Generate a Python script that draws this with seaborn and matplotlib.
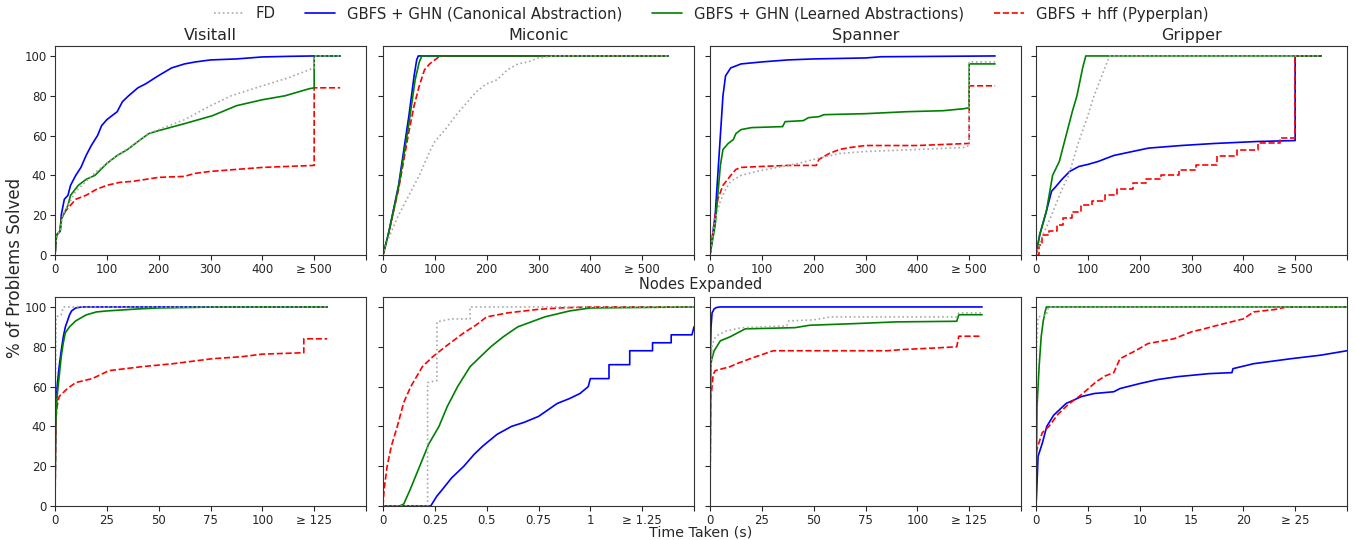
import pandas as pd
import matplotlib
matplotlib.use('Agg')
import matplotlib.pyplot as plt
import seaborn as sns

DOMAINS = ['Visitall', 'Miconic', 'Spanner', 'Gripper']
SERIES = ['FD', 'GBFS + GHN (Canonical Abstraction)',
          'GBFS + GHN (Learned Abstractions)', 'GBFS + hff (Pyperplan)']

# ---- nodes expanded (top row), (x, % solved) ----
VIS_N_FD = [(0, 0), (3, 10), (10, 12), (15, 20), (25, 25), (40, 32), (60, 37), (80, 42), (100, 46),
            (120, 50), (150, 55), (180, 61), (200, 63), (250, 68), (300, 75), (340, 80), (400, 85),
            (450, 89), (500, 94), (500, 100), (550, 100)]
VIS_N_CAN = [(0, 0), (3, 10), (10, 12), (12, 20), (18, 28), (25, 30), (30, 35), (40, 40), (50, 44),
             (60, 50), (70, 55), (82, 60), (90, 65), (100, 68), (120, 72), (130, 77), (142, 80),
             (160, 84), (175, 86), (199, 90), (225, 94), (250, 96), (271, 97), (300, 98),
             (350, 98.5), (400, 99.5), (450, 99.8), (500, 100), (550, 100)]
VIS_N_LRN = [(0, 0), (3, 10), (10, 12), (12, 18), (20, 22), (25, 25), (30, 30), (45, 35), (60, 38),
             (77, 40), (100, 46), (120, 50), (140, 53), (160, 57), (181, 61), (200, 62.5), (250, 66),
             (304, 70), (350, 75), (400, 78), (444, 80), (490, 83.5), (500, 84), (500, 100), (550, 100)]
VIS_N_HFF = [(0, 0), (3, 10), (10, 12), (12, 18), (20, 22), (30, 25), (40, 28), (60, 30), (80, 33),
             (100, 35), (125, 36.5), (150, 37), (175, 38), (200, 39), (250, 39.5), (270, 41),
             (300, 42), (350, 43), (400, 44), (450, 44.5), (500, 45), (500, 84), (550, 84)]

MIC_N_FD = [(0, 0), (10, 8), (30, 20), (50, 30), (70, 40), (90, 52), (100, 57), (120, 63), (140, 70),
            (160, 76), (180, 82), (200, 86), (220, 88), (240, 93), (260, 96), (280, 97), (300, 99),
            (330, 100), (550, 100)]
MIC_N_CAN = [(0, 0), (10, 10), (30, 35), (50, 70), (60, 90), (65, 98), (68, 100), (550, 100)]
MIC_N_LRN = [(0, 0), (10, 10), (30, 34), (50, 66), (62, 88), (70, 97), (75, 100), (550, 100)]
MIC_N_HFF = [(0, 0), (10, 10), (30, 33), (50, 62), (60, 75), (70, 85), (80, 93), (90, 96),
             (100, 98), (110, 100), (550, 100)]

SPA_N_FD = [(0, 0), (10, 18), (20, 27), (30, 33), (40, 37), (60, 40), (90, 42), (130, 44), (170, 46),
            (200, 48), (250, 51), (300, 52), (400, 53), (490, 54), (500, 55), (500, 97), (550, 97)]
SPA_N_CAN = [(0, 0), (10, 20), (20, 60), (25, 80), (30, 90), (40, 94), (60, 96), (100, 97), (150, 98),
             (200, 98.5), (300, 99), (330, 99.6), (550, 100)]
SPA_N_LRN = [(0, 0), (10, 15), (20, 45), (25, 53), (35, 56), (45, 58), (50, 61), (60, 63), (80, 64),
             (140, 64.5), (145, 67), (180, 67.5), (190, 69), (210, 69.5), (220, 70.5), (300, 71),
             (380, 72), (450, 72.5), (490, 73.5), (500, 74), (500, 96), (550, 96)]
SPA_N_HFF = [(0, 0), (10, 20), (15, 28), (25, 35), (40, 40), (50, 43), (60, 44), (100, 44.5),
             (150, 45), (205, 45), (210, 48), (230, 51), (250, 53), (270, 54), (300, 55), (400, 55),
             (495, 56), (500, 56), (500, 85), (550, 85)]

GRI_N_FD = [(0, 0), (10, 8), (30, 20), (50, 33), (63, 40), (80, 55), (100, 70), (112, 80), (130, 92),
            (142, 100), (550, 100)]
GRI_N_CAN = [(0, 0), (7, 10), (20, 22), (30, 32), (37, 34), (50, 38), (65, 42), (83, 44.5),
             (100, 45.5), (120, 47), (150, 50), (217, 53.7), (280, 55), (342, 56), (425, 57),
             (500, 57.5), (500, 100), (550, 100)]
GRI_N_LRN = [(0, 0), (7, 10), (20, 22), (32, 40), (45, 47), (58, 60), (70, 72), (79, 80), (90, 94),
             (96, 100), (550, 100)]
GRI_N_HFF = [(0, 0), (5, 5), (12, 10), (25, 12), (40, 15), (52, 18.5), (70, 21.5), (87, 25),
             (108, 27), (133, 30), (157, 33), (188, 36), (212, 38), (242, 40), (275, 42.5),
             (308, 45), (350, 49.5), (387, 53), (429, 56.5), (471, 59), (500, 100), (550, 100)]

# ---- time taken (bottom row) ----
VIS_T_FD = [(0, 0), (0.2, 60), (0.5, 95), (3, 96), (4, 100), (131.25, 100)]
VIS_T_CAN = [(0, 0), (0.2, 30), (0.5, 50), (1, 60), (2, 70), (3, 78), (4, 85), (5, 90), (6, 93),
             (7, 96), (8, 98), (10, 99.5), (13, 100), (131.25, 100)]
VIS_T_LRN = [(0, 0), (0.3, 40), (1, 55), (2, 65), (3, 75), (4, 82), (5, 87), (7, 90), (10, 93),
             (15, 96), (20, 97.5), (25, 98), (40, 99), (50, 99.5), (80, 100), (131.25, 100)]
VIS_T_HFF = [(0, 0), (0.3, 30), (0.5, 45), (1, 50), (2, 55), (4, 57), (6, 59), (10, 62), (18, 64),
             (22, 66), (26, 68), (42, 70), (57, 71.5), (76, 74), (90, 75), (100, 76.3), (120, 77),
             (120, 84), (131.25, 84)]

MIC_T_FD = [(0, 0), (0.215, 0), (0.215, 62), (0.26, 63), (0.26, 92.5), (0.33, 94), (0.42, 94),
            (0.42, 100), (1.5, 100)]
MIC_T_CAN = [(0, 0), (0.23, 0), (0.26, 5), (0.284, 8), (0.33, 14), (0.39, 20), (0.44, 26),
             (0.48, 30), (0.55, 36), (0.62, 40), (0.68, 42), (0.75, 45), (0.84, 51.5), (0.9, 54),
             (0.95, 56.5), (0.99, 60), (1.0, 64), (1.09, 64), (1.09, 71), (1.19, 71), (1.19, 78),
             (1.3, 78), (1.3, 82), (1.39, 82), (1.39, 86), (1.49, 86), (1.5, 90)]
MIC_T_LRN = [(0, 0), (0.08, 0), (0.10, 1), (0.13, 8), (0.177, 20), (0.22, 31), (0.27, 40),
             (0.31, 50), (0.36, 60), (0.42, 70), (0.52, 80), (0.58, 85), (0.65, 90), (0.78, 95),
             (0.9, 98), (1.0, 99.5), (1.5, 100)]
MIC_T_HFF = [(0, 0), (0.005, 8), (0.02, 20), (0.04, 30), (0.069, 40), (0.1, 52), (0.134, 60),
             (0.19, 70), (0.24, 75), (0.3, 80), (0.39, 87), (0.45, 91), (0.5, 95), (0.6, 97),
             (0.74, 98.7), (0.85, 99.5), (1.0, 100), (1.5, 100)]

SPA_T_FD = [(0, 0), (0.3, 65), (1, 80), (2, 84), (4, 86), (8, 88), (15, 89.5), (25, 90), (37, 90.5),
            (38, 93), (50, 93.5), (58, 95), (119, 95), (120, 97), (131.25, 97)]
SPA_T_CAN = [(0, 0), (0.3, 80), (0.5, 90), (1, 97), (2, 99), (3, 99.7), (5, 100), (131.25, 100)]
SPA_T_LRN = [(0, 0), (0.3, 70), (0.8, 73.6), (2, 78), (5, 83), (9.7, 85), (17, 89), (41, 89.6),
             (48, 90.8), (69, 91.6), (90, 92.5), (119, 92.8), (120, 96.1), (131.25, 96.1)]
SPA_T_HFF = [(0, 0), (0.3, 55), (0.8, 58), (1.5, 66), (2.5, 68), (9.7, 70), (12.9, 71.5),
             (21, 74.6), (30.5, 78), (85.5, 78), (92.7, 78.6), (109, 79.4), (119, 80), (120, 85.3),
             (131.25, 85.3)]

GRI_T_FD = [(0, 0), (0.05, 80), (0.2, 95), (1, 96), (1.2, 100), (30, 100)]
GRI_T_CAN = [(0, 0), (0.05, 5), (0.2, 25), (0.6, 31.4), (1.04, 40), (1.7, 45.6), (2.9, 51.5),
             (4.4, 55), (5.6, 56.5), (7.5, 57.4), (8.1, 59), (10, 61.5), (11.7, 63.5), (13.7, 65),
             (16.7, 66.5), (18.9, 67), (19, 69), (21, 71.5), (24.6, 74), (27.5, 75.8), (30, 78)]
GRI_T_LRN = [(0, 0), (0.1, 50), (0.3, 70), (0.5, 85), (0.7, 93), (0.9, 98), (1, 100), (30, 100)]
GRI_T_HFF = [(0, 0), (0.05, 28), (0.6, 36.8), (1.25, 40), (2.1, 46), (3.1, 51), (4.4, 56),
             (5.8, 62.4), (6.7, 65.4), (7.5, 67), (8.1, 74), (9.6, 78), (10.8, 81.6), (13.3, 84),
             (15, 87.5), (16.2, 89), (17.9, 91.3), (20, 94), (21, 97.5), (23, 98.7), (24.2, 100),
             (30, 100)]

# tick positions / labels
NODE_TICKS = [0, 100, 200, 300, 400, 500, 600]
NODE_LABELS = ['0', '100', '200', '300', '400', '≥ 500', '']
TIME_TICKS = {
    'Visitall': [0, 25, 50, 75, 100, 125, 150],
    'Miconic': [0, 0.25, 0.5, 0.75, 1, 1.25, 1.5],
    'Spanner': [0, 25, 50, 75, 100, 125, 150],
    'Gripper': [0, 5, 10, 15, 20, 25, 30],
}
TIME_LABELS = {
    'Visitall': ['0', '25', '50', '75', '100', '≥ 125', ''],
    'Miconic': ['0', '0.25', '0.5', '0.75', '1', '≥ 1.25', ''],
    'Spanner': ['0', '25', '50', '75', '100', '≥ 125', ''],
    'Gripper': ['0', '5', '10', '15', '20', '≥ 25', ''],
}

NODES = {'Visitall': [VIS_N_FD, VIS_N_CAN, VIS_N_LRN, VIS_N_HFF],
         'Miconic': [MIC_N_FD, MIC_N_CAN, MIC_N_LRN, MIC_N_HFF],
         'Spanner': [SPA_N_FD, SPA_N_CAN, SPA_N_LRN, SPA_N_HFF],
         'Gripper': [GRI_N_FD, GRI_N_CAN, GRI_N_LRN, GRI_N_HFF]}
TIMES = {'Visitall': [VIS_T_FD, VIS_T_CAN, VIS_T_LRN, VIS_T_HFF],
         'Miconic': [MIC_T_FD, MIC_T_CAN, MIC_T_LRN, MIC_T_HFF],
         'Spanner': [SPA_T_FD, SPA_T_CAN, SPA_T_LRN, SPA_T_HFF],
         'Gripper': [GRI_T_FD, GRI_T_CAN, GRI_T_LRN, GRI_T_HFF]}

rows = []
for metric, table in [('nodes', NODES), ('time', TIMES)]:
    for dom, series_list in table.items():
        for name, pts in zip(SERIES, series_list):
            for i, (x, y) in enumerate(pts):
                rows.append(dict(metric=metric, domain=dom, series=name, i=i, x=x, y=y))
df = pd.DataFrame(rows)

colors = {SERIES[0]: 'darkgray', SERIES[1]: 'blue', SERIES[2]: 'green', SERIES[3]: 'red'}
styles = {SERIES[0]: ':', SERIES[1]: '-', SERIES[2]: '-', SERIES[3]: '--'}
draw_order = [SERIES[1], SERIES[3], SERIES[2], SERIES[0]]

sns.set_style('ticks')
plt.rcParams['font.family'] = ['DejaVu Sans']

W, H = 1355, 540
fig = plt.figure(figsize=(W / 100, H / 100), dpi=100)
lefts = [55, 383, 710, 1036]
handles = {}
for r, metric in enumerate(['nodes', 'time']):
    top = 46 if r == 0 else 297
    for c, dom in enumerate(DOMAINS):
        ax = fig.add_axes([lefts[c] / W, 1 - (top + 209) / H, 311 / W, 209 / H])
        for s in draw_order:
            sub = df[(df.metric == metric) & (df.domain == dom) & (df.series == s)]
            step = (metric == 'nodes' and dom == 'Gripper' and s == SERIES[3])
            sns.lineplot(data=sub, x='x', y='y', estimator=None, sort=False, ax=ax,
                         color=colors[s], linestyle=styles[s], lw=1.2, legend=False,
                         drawstyle='steps-post' if step else 'default')
            handles[s] = ax.get_lines()[-1]
        if metric == 'nodes':
            ax.set_xticks(NODE_TICKS)
            ax.set_xticklabels(NODE_LABELS)
            ax.set_xlim(0, 600)
            ax.set_title(dom, fontsize=11.5, pad=4)
        else:
            ax.set_xticks(TIME_TICKS[dom])
            ax.set_xticklabels(TIME_LABELS[dom])
            ax.set_xlim(0, TIME_TICKS[dom][-1])
        ax.set_ylim(0, 105)
        ax.set_yticks([0, 20, 40, 60, 80, 100])
        if c != 0:
            ax.set_yticklabels([])
        ax.set_xlabel('')
        ax.set_ylabel('')
        ax.tick_params(labelsize=8.5, length=3.5, width=0.8, pad=2.5)
        for sp in ax.spines.values():
            sp.set_linewidth(0.8)
            sp.set_color('#333333')

fig.text(701 / W, 1 - 284 / H, 'Nodes Expanded', ha='center', va='center', fontsize=10.5)
fig.text(701 / W, 1 - 532.5 / H, 'Time Taken (s)', ha='center', va='center', fontsize=10.3)
fig.text(15 / W, 1 - 268 / H, '% of Problems Solved', ha='center', va='center',
         rotation=90, fontsize=12)
fig.legend([handles[s] for s in SERIES], SERIES, loc='center',
           bbox_to_anchor=(711 / W, 1 - 14 / H), ncol=4, frameon=False, fontsize=10.75)

fig.savefig('out.png', dpi=100)
